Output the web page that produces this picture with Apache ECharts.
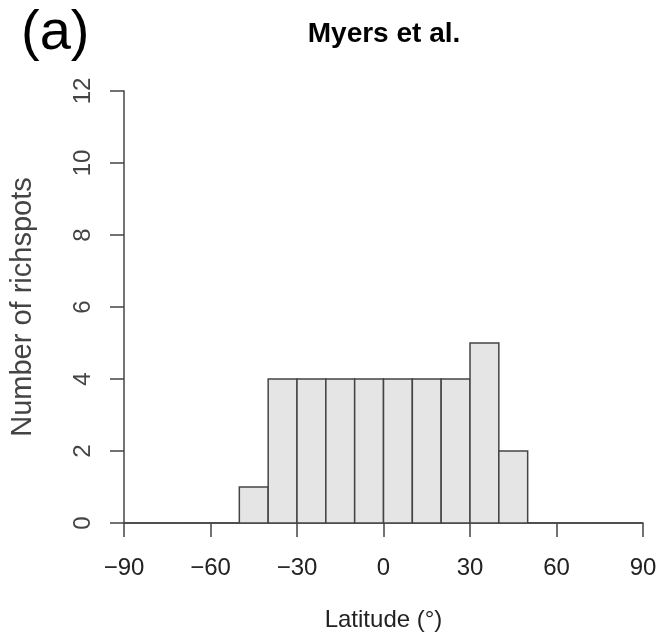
<!DOCTYPE html>
<html lang="en">
<head>
    <meta charset="utf-8"/>
    <title>Myers et al.</title>
    <script src="https://cdn.jsdelivr.net/npm/echarts@6/dist/echarts.min.js"></script>
    <style>
        html, body { margin: 0; padding: 0; background: #fff; }
        #chart { width: 660px; height: 641px; }
    </style>
</head>
<body>
<div id="chart"></div>
<script>
    // 数据: 10度一个分组的纬度直方图
    var binStarts = [-90, -80, -70, -60, -50, -40, -30, -20, -10, 0, 10, 20, 30, 40, 50, 60, 70, 80];
    var binWidth = 10;
    var counts = [0, 0, 0, 0, 1, 4, 4, 4, 4, 4, 4, 4, 5, 2, 0, 0, 0, 0];
    var xTicks = [-90, -60, -30, 0, 30, 60, 90];
    var yTicks = [0, 2, 4, 6, 8, 10, 12];

    var lineColor = '#444';
    var font = '"Liberation Sans", Arial, Helvetica, sans-serif';

    var barData = [];
    for (var i = 0; i < binStarts.length; i++) {
        barData.push([binStarts[i], binStarts[i] + binWidth, counts[i]]);
    }

    var chart = echarts.init(document.getElementById('chart'));
    var option = {
        animation: false,
        backgroundColor: '#fff',
        title: {
            text: 'Myers et al.',
            left: 379,
            top: 15,
            textAlign: 'center',
            textStyle: { fontFamily: font, fontWeight: 'bold', fontSize: 28, color: '#000' }
        },
        graphic: [{
            type: 'text',
            left: 21,
            top: 6,
            style: { text: '(a)', font: '56px ' + font, fill: '#000' }
        }],
        grid: { left: 124, right: 17, top: 91, bottom: 118 },
        xAxis: {
            type: 'value',
            min: xTicks[0],
            max: xTicks[xTicks.length - 1],
            interval: 30,
            name: 'Latitude (°)',
            nameLocation: 'middle',
            nameGap: 85,
            nameTextStyle: { fontFamily: font, fontSize: 24, color: '#222' },
            splitLine: { show: false },
            axisLine: { show: true, lineStyle: { color: lineColor, width: 1.5 } },
            axisTick: { show: true, length: 14, lineStyle: { color: lineColor, width: 1.5 } },
            axisLabel: {
                margin: 33,
                fontFamily: font, fontSize: 24, color: '#222',
                formatter: function (v) { return String(v).replace('-', '\u2212'); }
            }
        },
        yAxis: {
            type: 'value',
            min: yTicks[0],
            max: yTicks[yTicks.length - 1],
            interval: 2,
            name: 'Number of richspots',
            nameLocation: 'middle',
            nameGap: 87,
            nameTextStyle: { fontFamily: font, fontSize: 29, color: '#444' },
            splitLine: { show: false },
            axisLine: { show: true, onZero: false, lineStyle: { color: lineColor, width: 1.5 } },
            axisTick: { show: true, length: 14, lineStyle: { color: lineColor, width: 1.5 } },
            axisLabel: {
                rotate: 90,
                margin: 29,
                fontFamily: font, fontSize: 24, color: '#444'
            }
        },
        series: [{
            type: 'custom',
            data: barData,
            renderItem: function (params, api) {
                var p0 = api.coord([api.value(0), 0]);
                var p1 = api.coord([api.value(1), api.value(2)]);
                return {
                    type: 'rect',
                    shape: { x: p0[0], y: p1[1], width: p1[0] - p0[0], height: p0[1] - p1[1] },
                    style: { fill: '#e5e5e5', stroke: lineColor, lineWidth: 1.5 }
                };
            }
        }]
    };
    chart.setOption(option);
</script>
</body>
</html>
